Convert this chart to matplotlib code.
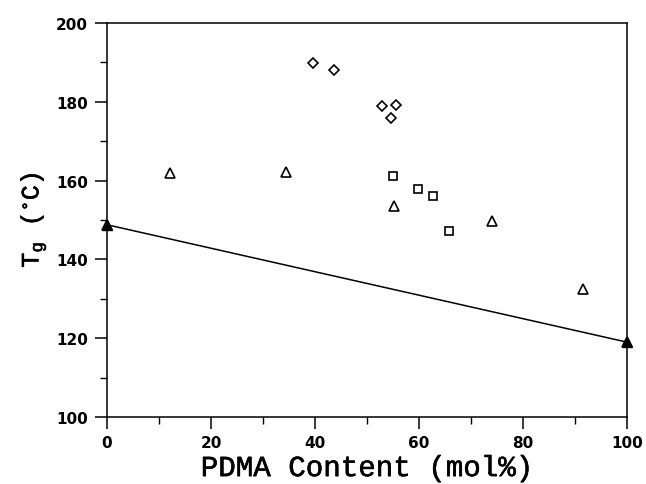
import matplotlib
matplotlib.use("Agg")
import matplotlib.pyplot as plt
import matplotlib.patheffects as pe
from matplotlib.ticker import MultipleLocator

plt.rcParams["mathtext.fontset"] = "custom"
plt.rcParams["mathtext.rm"] = "Liberation Mono"
plt.rcParams["mathtext.it"] = "Liberation Mono"
plt.rcParams["mathtext.default"] = "regular"

# PDMA content (mol%) and Tg (deg C)
tri_x = [0, 12.1, 34.4, 55.1, 74.1, 91.6, 100]
tri_y = [148.8, 161.9, 162.1, 153.6, 149.7, 132.5, 119.0]
dia_x = [39.7, 43.7, 52.9, 55.6, 54.6]
dia_y = [189.8, 188.1, 179.0, 179.2, 176.0]
sq_x = [55.0, 59.9, 62.75, 65.7]
sq_y = [161.1, 157.8, 156.1, 147.2]
# additivity line between the two homopolymers
line_x = [0, 100]
line_y = [148.8, 119.0]

fig = plt.figure(figsize=(6.46, 4.85), dpi=100)
ax = fig.add_axes([0.1656, 0.1381, 0.805, 0.8124])

ax.plot(line_x, line_y, color="black", lw=1.1)
mk = dict(linestyle="none", markerfacecolor="white", markeredgecolor="black",
          markeredgewidth=1.2, clip_on=False)
ax.plot(tri_x, tri_y, marker="^", markersize=6.8, **mk)
ax.plot(dia_x, dia_y, marker="D", markersize=4.8, **mk)
ax.plot(sq_x, sq_y, marker="s", markersize=5.3, **mk)
# solid ends on the homopolymer points
ax.plot(line_x, line_y, linestyle="none", marker="^", markersize=6.8,
        color="black", clip_on=False)

ax.set_xlim(0, 100)
ax.set_ylim(100, 200)
ax.xaxis.set_major_locator(MultipleLocator(20))
ax.xaxis.set_minor_locator(MultipleLocator(10))
ax.yaxis.set_major_locator(MultipleLocator(20))
ax.yaxis.set_minor_locator(MultipleLocator(10))
ax.tick_params(which="major", direction="out", length=8.6, width=1.1,
               labelsize=11)
ax.tick_params(axis="x", which="major", pad=4.3)
ax.tick_params(axis="y", which="major", pad=5)
ax.tick_params(which="minor", direction="out", length=5, width=1.0)
for lab in ax.get_xticklabels() + ax.get_yticklabels():
    lab.set_fontweight("bold")
for s in ax.spines.values():
    s.set_linewidth(1.1)

# typewriter-ish axis titles, thickened a little like the printed original
thick = [pe.withStroke(linewidth=0.4, foreground="black")]
xl = ax.set_xlabel("PDMA Content (mol%)", family="Liberation Mono",
                   fontsize=21, labelpad=3)
yl = ax.set_ylabel(r"T$_g$ ($^\circ$C)", family="Liberation Mono",
                   fontsize=18, labelpad=6)
xl.set_path_effects(thick)
yl.set_path_effects(thick)

fig.savefig("out.png", dpi=100)
